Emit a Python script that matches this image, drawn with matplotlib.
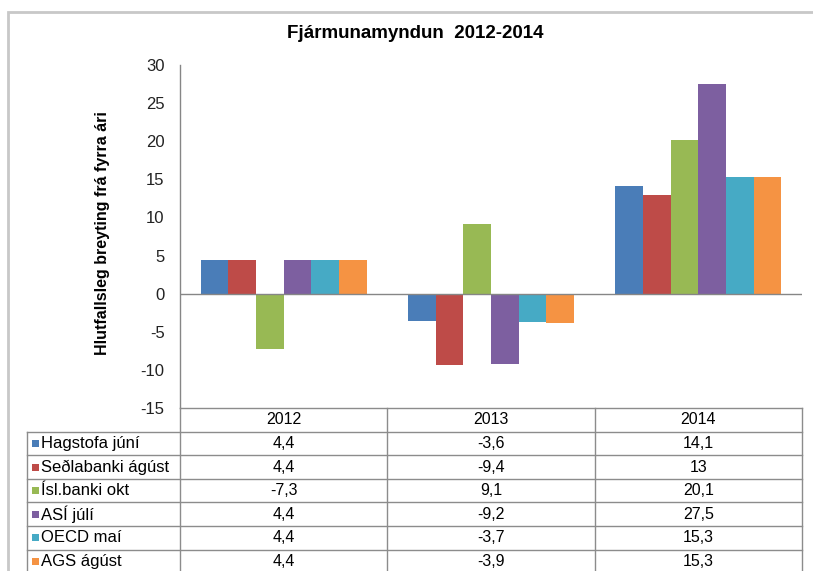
import matplotlib
matplotlib.use('Agg')
import matplotlib.pyplot as plt
from matplotlib.lines import Line2D
from matplotlib.patches import Rectangle
import numpy as np

plt.rcParams['font.family'] = ['Liberation Sans', 'DejaVu Sans']

years = ['2012', '2013', '2014']
series_names = ['Hagstofa júní', 'Seðlabanki ágúst', 'Ísl.banki okt', 'ASÍ júlí', 'OECD maí', 'AGS ágúst']
hagstofa = [4.4, -3.6, 14.1]
sedlabanki = [4.4, -9.4, 13]
islbanki = [-7.3, 9.1, 20.1]
asi = [4.4, -9.2, 27.5]
oecd = [4.4, -3.7, 15.3]
ags = [4.4, -3.9, 15.3]
series_values = [hagstofa, sedlabanki, islbanki, asi, oecd, ags]
colors = ['#4A7DB8', '#BE4B48', '#98B954', '#7D5FA0', '#46AAC5', '#F59343']
yticks = list(range(-15, 31, 5))

W, H = 813, 571
fig = plt.figure(figsize=(W / 100, H / 100), dpi=100)
fig.patch.set_facecolor('white')

def fx(x):
    return x / W

def fy(y):
    return 1 - y / H

# outer chart border (cut off at right/bottom)
fig.patches.append(Rectangle((fx(8), fy(H + 20)), fx(W + 20) - fx(8), fy(12) - fy(H + 20),
                             transform=fig.transFigure, fill=False, edgecolor='#c8c8c8', lw=2))

L, R, T, B = 180, 802, 65, 408
ax = fig.add_axes([fx(L), fy(B), fx(R) - fx(L), fy(T) - fy(B)])
n = len(series_values)
bw = 0.8 / n
x = np.arange(len(years))
for i, (vals, c) in enumerate(zip(series_values, colors)):
    ax.bar(x - 0.4 + bw * (i + 0.5), vals, bw, color=c, linewidth=0)
ax.set_xlim(-0.5, len(years) - 0.5)
ax.set_ylim(-15, 30)
ax.set_yticks(yticks)
ax.set_yticklabels([str(t) for t in yticks], fontsize=12, color='#222222')
ax.tick_params(axis='y', length=0, pad=11)
ax.set_xticks([])
for s in ['top', 'right', 'bottom']:
    ax.spines[s].set_visible(False)
ax.spines['left'].set_color('#868686')
ax.spines['left'].set_linewidth(1)
ax.axhline(0, color='#868686', lw=1)

fig.text(fx(415), fy(33), 'Fjármunamyndun  2012-2014', ha='center', va='center',
         fontsize=13.5, fontweight='bold')
fig.text(fx(103), fy(233), 'Hlutfallsleg breyting frá fyrra ári', ha='center', va='center',
         rotation=90, fontsize=11.5, fontweight='bold')

# data table
lc = '#8c8c8c'
rh = 23.6
TL = 27
colw = (R - L) / len(years)

def hline(y, x0, x1):
    fig.add_artist(Line2D([fx(x0), fx(x1)], [fy(y), fy(y)], transform=fig.transFigure, color=lc, lw=1))

def vline(xp, y0, y1):
    fig.add_artist(Line2D([fx(xp), fx(xp)], [fy(y0), fy(y1)], transform=fig.transFigure, color=lc, lw=1))

hline(B, L, R)
for k in range(1, n + 2):
    hline(B + k * rh, TL, R)
vline(TL, B + rh, H + 5)
vline(L, B, H + 5)
for j in range(1, len(years) + 1):
    vline(L + j * colw, B, H + 5)

def fmt(v):
    if float(v).is_integer():
        return str(int(v))
    return ('%.1f' % v).replace('.', ',')

for j, yr in enumerate(years):
    fig.text(fx(L + (j + 0.5) * colw), fy(B + rh / 2), yr, ha='center', va='center', fontsize=11.5)
for i, (name, vals, c) in enumerate(zip(series_names, series_values, colors)):
    yc = B + (i + 1.5) * rh
    fig.patches.append(Rectangle((fx(32), fy(yc + 3.5)), fx(7), 7 / H, transform=fig.transFigure,
                                 color=c, lw=0))
    fig.text(fx(41), fy(yc), name, ha='left', va='center', fontsize=12)
    for j, v in enumerate(vals):
        fig.text(fx(L + (j + 0.5) * colw), fy(yc), fmt(v), ha='center', va='center', fontsize=11.5)

fig.savefig('out.png', dpi=100)
